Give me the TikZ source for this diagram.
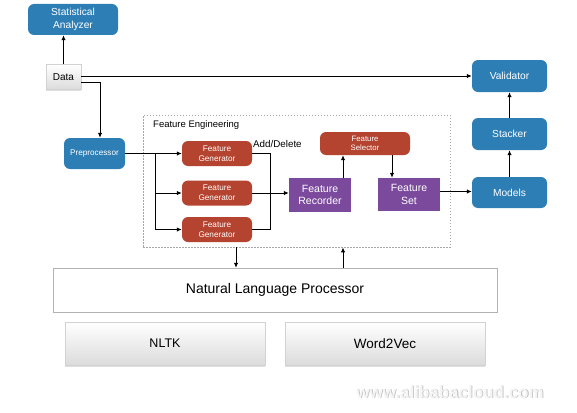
\documentclass[tikz,border=0pt]{standalone}
\usepackage{fontspec}
\setmainfont{Liberation Sans}
\usetikzlibrary{arrows.meta,shadows,calc}
\definecolor{bblue}{HTML}{2E7EB6}
\definecolor{rred}{HTML}{B4432F}
\definecolor{ppurple}{HTML}{7B4A9C}
\tikzset{fsz/.code={\pgfmathsetmacro\fszb{#1*1.22}%
  \edef\fsztmp{\noexpand\tikzset{font=\noexpand\fontsize{#1pt}{\fszb pt}\noexpand\selectfont}}\fsztmp}}
\begin{document}
\begin{tikzpicture}[x=1pt,y=-1pt,
  bluebox/.style={rounded corners=6pt, fill=bblue, text=white, align=center, inner sep=0pt,
    minimum width=75pt, minimum height=32pt, fsz=10.2},
  redbox/.style={rounded corners=6pt, fill=rred, text=white, align=center, inner sep=0pt,
    minimum width=70pt, minimum height=25pt, fsz=8.2},
  purplebox/.style={fill=ppurple, text=white, align=center, inner sep=0pt,
    minimum width=62pt, minimum height=34pt, fsz=10.5},
  graybox/.style={draw=gray!35, top color=white, bottom color=gray!28, align=center, inner sep=0pt,
    drop shadow={shadow xshift=0pt, shadow yshift=-1.5pt, opacity=0.25}},
  arr/.style={line width=1pt, -{Latex[length=5pt,width=4.5pt]}},
  ln/.style={line width=1pt},
  wmark/.style={font=\bfseries\fontsize{17pt}{20pt}\selectfont}
]
\useasboundingbox (0,0) rectangle (577,412);

% feature engineering container
\node[draw=gray!70, dash pattern=on 1.5pt off 1.5pt, line width=0.8pt, minimum width=307pt, minimum height=132pt, inner sep=0pt] (fe) at (296.5,181) {};
\node[anchor=west, fsz=9.5, inner sep=0pt] (felabel) at (153,125) {Feature Engineering};

\node[bluebox, minimum width=90pt, minimum height=31pt] (sa) at (73,19.5) {Statistical\\Analyzer};
\node[graybox, minimum width=35pt, minimum height=25pt, fsz=10] (data) at (63.5,77) {Data};
\node[bluebox, minimum width=61pt, minimum height=31pt, fsz=8.2] (pre) at (94.5,153.5) {Preprocessor};

\node[redbox] (g1) at (217,153.5) {Feature\\Generator};
\node[redbox] (g2) at (217,193) {Feature\\Generator};
\node[redbox] (g3) at (217,229.5) {Feature\\Generator};

\node[purplebox] (rec) at (320,195) {Feature\\Recorder};
\node[redbox, minimum width=90pt, minimum height=23pt, fsz=7.8] (sel) at (365,143.5) {Feature\\Selector};
\node[purplebox, minimum height=33pt] (set) at (409,194.5) {Feature\\Set};

\node[bluebox] (val) at (509.5,76) {Validator};
\node[bluebox] (stk) at (509.5,134) {Stacker};
\node[bluebox, minimum height=31pt] (mod) at (509.5,192.5) {Models};

\node[draw=gray!60, fill=white, minimum width=444pt, minimum height=44pt, inner sep=0pt, fsz=14,
  drop shadow={shadow xshift=0pt, shadow yshift=-1pt, opacity=0.2}] (nlp) at (275,290) {Natural Language Processor};
\node[graybox, minimum width=200pt, minimum height=43pt, fsz=12.5] (nltk) at (165,343.5) {NLTK};
\node[graybox, minimum width=200pt, minimum height=43pt, fsz=13.5] (w2v) at (385,343.5) {Word2Vec};

\node[wmark, text=gray!55] (wmshadow) at (450.8,392.8) {www.alibabacloud.com};
\node[wmark, text=gray!8] (wm) at (450,392) {www.alibabacloud.com};

% connectors
\draw[arr] (data.north) -- (data.north |- sa.south);
\draw[arr] (data.east |- val.west) -- (val.west);
\coordinate (dp) at (100,82);
\draw[arr] (data.east |- dp) -- (dp) -- (dp |- pre.north);

\coordinate (split) at (155,153.5);
\draw[arr] (pre.east) -- (g1.west);
\draw[arr] (split) |- (g2.west);
\draw[arr] (split) |- (g3.west);

\coordinate (join) at (270,153.5);
\draw[ln] (g1.east) -- (join) -- (join |- g3.east) -- (g3.east);
\draw[arr] (g2.east) -- (g2.east -| rec.west);
\node[anchor=west, fsz=9.8, inner sep=0pt] (ad) at (253,144) {Add/Delete};

\coordinate (rs) at (343,0);
\draw[arr] (rs |- rec.north) -- (rs |- sel.south);
\coordinate (ss) at (392,0);
\draw[arr] (ss |- sel.south) -- (ss |- set.north);
\draw[arr] ([yshift=3pt]set.east) -- ([yshift=3pt]set.east -| mod.west);
\draw[arr] (mod.north) -- (stk.south);
\draw[arr] (stk.north) -- (val.south);

\coordinate (dn) at (236,0);
\draw[arr] (dn |- fe.south) -- (dn |- nlp.north);
\coordinate (up) at (343,0);
\draw[arr] (up |- nlp.north) -- (up |- fe.south);
\end{tikzpicture}
\end{document}
